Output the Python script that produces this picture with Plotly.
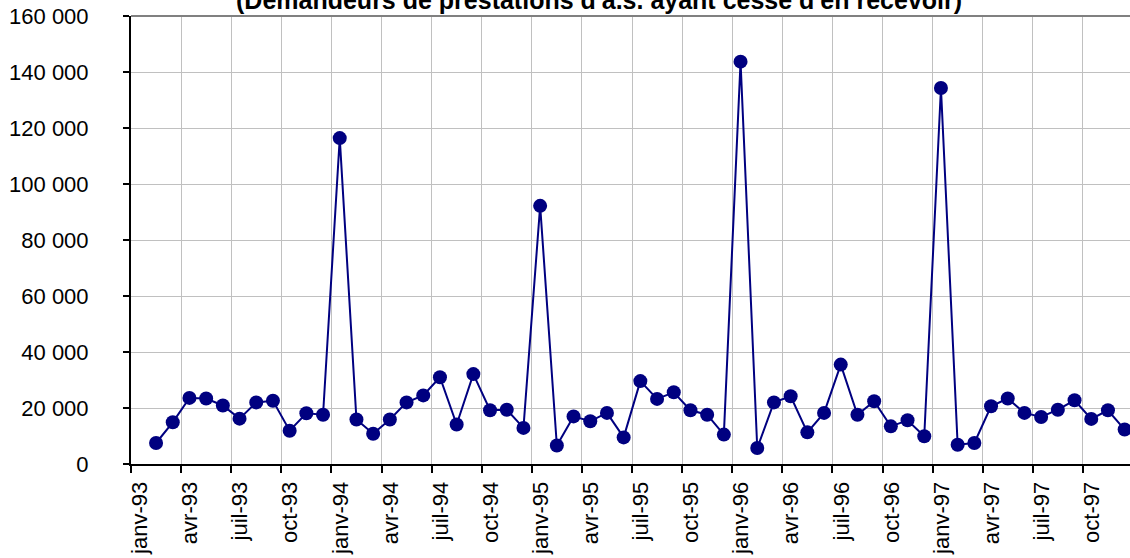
import plotly.graph_objects as go

title_text = "(Demandeurs de prestations d'a.s. ayant cessé d'en recevoir)"

month_names = ["janv", "févr", "mars", "avr", "mai", "juin",
               "juil", "août", "sept", "oct", "nov", "déc"]
years = ["93", "94", "95", "96", "97"]
months = [f"{m}-{y}" for y in years for m in month_names]

values = [
    None, 7500, 14900, 23600, 23400, 20900, 16200, 22000, 22600, 11900, 18100, 17600,   # 1993
    116400, 15900, 10800, 15900, 22000, 24500, 31000, 14100, 32100, 19200, 19400, 12900,  # 1994
    92200, 6600, 17000, 15250, 18250, 9500, 29600, 23250, 25600, 19200, 17600, 10500,   # 1995
    143700, 5700, 22000, 24200, 11300, 18250, 35500, 17600, 22400, 13450, 15600, 9900,  # 1996
    134300, 6900, 7500, 20600, 23400, 18250, 16800, 19400, 22750, 16100, 19200, 12300,  # 1997
]

y_ticks = [0, 20000, 40000, 60000, 80000, 100000, 120000, 140000, 160000]

x_idx = list(range(len(months)))
label_idx = x_idx[::3]
tick_pos = [i - 0.5 for i in label_idx]
tick_text = [months[i] for i in label_idx]

FONT = "Liberation Sans, Arial, sans-serif"
NAVY = "#000080"

fig = go.Figure()
fig.add_trace(go.Scatter(
    x=x_idx, y=values, mode="lines+markers",
    line=dict(color=NAVY, width=2),
    marker=dict(color=NAVY, size=14, symbol="circle"),
    connectgaps=False, showlegend=False,
))

fig.update_layout(
    width=1130, height=558,
    margin=dict(l=131, r=0, t=16, b=94),
    paper_bgcolor="white", plot_bgcolor="white",
    separators=", ",
    font=dict(family=FONT, color="black", size=22),
    xaxis=dict(
        type="linear", range=[-0.5, -0.5 + 999 / 16.7],
        tickmode="array", tickvals=tick_pos, ticktext=tick_text,
        tickangle=-90, ticklabelshift=9,
        ticks="outside", ticklen=7, tickwidth=2, tickcolor="black",
        showgrid=True, gridcolor="#c0c0c0", gridwidth=1,
        showline=True, linecolor="black", linewidth=2,
        zeroline=False, automargin=False,
        tickfont=dict(family=FONT, size=22, color="black"),
    ),
    yaxis=dict(
        range=[0, 160000], tickmode="array", tickvals=y_ticks,
        tickformat=",d",
        ticks="outside", ticklen=6, tickwidth=2, tickcolor="black",
        showgrid=True, gridcolor="#c0c0c0", gridwidth=1,
        showline=True, linecolor="black", linewidth=2,
        zeroline=False, ticklabelstandoff=30, automargin=False,
        tickfont=dict(family=FONT, size=22, color="black"),
    ),
    shapes=[dict(type="line", xref="paper", yref="paper", x0=0, x1=1, y0=1, y1=1,
                 line=dict(color="#808080", width=2))],
    annotations=[dict(text="<b>" + title_text + "</b>", xref="paper", yref="paper",
                      x=(599 - 131) / 999, y=1, xanchor="center", yanchor="bottom",
                      showarrow=False, font=dict(family=FONT, size=25, color="black"))],
)

fig.write_html("out.html", config={"displayModeBar": False},
               post_script="document.body.style.margin='0';document.body.style.overflow='hidden';")
